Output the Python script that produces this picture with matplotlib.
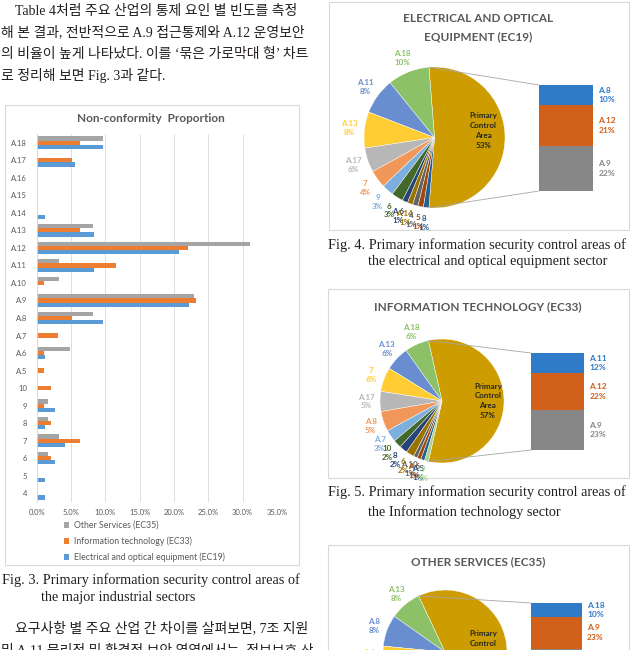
import numpy as np
import matplotlib
matplotlib.use('Agg')
import matplotlib.pyplot as plt
from matplotlib.patches import Rectangle, ConnectionPatch

W, H = 636, 650

# Fig. 3 data: share (%) of non-conformities per control area
categories = ['A.18', 'A.17', 'A.16', 'A.15', 'A.14', 'A.13', 'A.12', 'A.11', 'A.10', 'A.9',
              'A.8', 'A.7', 'A.6', 'A.5', '10', '9', '8', '7', '6', '5', '4']
ec35 = [9.7, 0, 0, 0, 0, 8.2, 31.1, 3.25, 3.25, 22.9, 8.2, 0, 4.85, 0, 0, 1.6, 1.6, 3.25, 1.6, 0, 0]
ec33 = [6.3, 5.2, 0, 0, 0, 6.3, 22.1, 11.5, 1.0, 23.2, 5.2, 3.15, 1.0, 1.0, 2.1, 1.0, 2.1, 6.3, 2.1, 0, 0]
ec19 = [9.6, 5.6, 0, 0, 1.25, 8.3, 20.7, 8.3, 0, 22.2, 9.7, 0, 1.25, 0, 0, 2.7, 1.25, 4.1, 2.7, 1.25, 1.25]
x_ticks = [0, 5, 10, 15, 20, 25, 30, 35]
series_names = ['Other Services (EC35)', 'Information technology (EC33)',
                'Electrical and optical equipment (EC19)']

# Fig. 4-6: pie-of-bar breakdowns (pie slices counter-clockwise from the top, bar from top)
ec19_pie = ['A.18', 'A.11', 'A.13', 'A.17', '7', '9', '6', 'A.6', 'A.14', '4', '5', '8']
ec19_bar = ['A.8', 'A.12', 'A.9']
ec33_pie = ['A.18', 'A.13', '7', 'A.17', 'A.8', 'A.7', '10', '8', '6', 'A.10', 'A.6', 'A.5', '9']
ec33_bar = ['A.11', 'A.12', 'A.9']
ec35_pie = ['A.13', 'A.8', 'A.6', 'A.11', 'A.10', '7', '6', '8', '9']
ec35_bar = ['A.18', 'A.9', 'A.12']

text_top = ['Table 4처럼 주요 산업의 통제 요인 별 빈도를 측정',
            '해 본 결과, 전반적으로 A.9 접근통제와 A.12 운영보안',
            '의 비율이 높게 나타났다. 이를 ‘묶은 가로막대 형’ 차트',
            '로 정리해 보면 Fig. 3과 같다.']
text_bottom = ['요구사항 별 주요 산업 간 차이를 살펴보면, 7조 지원',
               '및 A.11 물리적 및 환경적 보안 영역에서는, 정보보호 산']

SERIF = ['Liberation Serif', 'Noto Sans CJK KR']
SANS = ['Lato', 'DejaVu Sans']
GREY = '#595959'
GOLD = '#CC9C00'
PIE_COLORS = ['#8CC168', '#698ED0', '#FFCD33', '#B7B7B7', '#F1975A', '#7CAFDD', '#43682B',
              '#264478', '#997300', '#636363', '#9E480E', '#255E91', '#A9D18E']
BAR_COLORS = ['#2F7BC7', '#D0601A', '#878787']

fig = plt.figure(figsize=(W / 100, H / 100), dpi=100)


def px_ax(x0, y0, x1, y1):
    return fig.add_axes([x0 / W, 1 - y1 / H, (x1 - x0) / W, (y1 - y0) / H])


canvas = px_ax(0, 0, W, H)
canvas.set_xlim(0, W)
canvas.set_ylim(H, 0)
canvas.axis('off')

# body text and captions
for i, line in enumerate(text_top):
    canvas.text(15 if i == 0 else 1, 11 + i * 21.5, line, family=SERIF, fontsize=10,
                va='center', color='#231F20')
for i, line in enumerate(text_bottom):
    canvas.text(15 if i == 0 else 1, 628 + i * 22, line, family=SERIF, fontsize=10,
                va='center', color='#231F20')
captions = [(2, 580, 'Fig. 3. Primary information security control areas of'),
            (41, 597, 'the major industrial sectors'),
            (328, 245, 'Fig. 4. Primary information security control areas of'),
            (368, 261, 'the electrical and optical equipment sector'),
            (328, 492, 'Fig. 5. Primary information security control areas of'),
            (368, 512, 'the Information technology sector')]
for x, y, s in captions:
    canvas.text(x, y, s, family=SERIF, fontsize=10.3, va='center', color='#231F20')

# chart frames
for x0, y0, x1, y1 in [(5, 105, 299, 565), (329, 2, 629, 230), (328, 289, 629, 478),
                       (328, 545, 629, 700)]:
    canvas.add_patch(Rectangle((x0, y0), x1 - x0, y1 - y0, fill=False, ec='#D9D9D9', lw=0.8))

# ---- Fig. 3 clustered bar chart ----
canvas.text(151, 119, 'Non-conformity  Proportion', family=SANS, fontsize=8.5,
            fontweight='bold', color=GREY, ha='center', va='center')
ax = px_ax(36.7, 134, 277, 502)
y = np.arange(len(categories))
h = 0.24
b1 = ax.barh(y - h, ec35, height=h, color='#A5A5A5', label=series_names[0])
b2 = ax.barh(y, ec33, height=h, color='#ED7D31', label=series_names[1])
b3 = ax.barh(y + h, ec19, height=h, color='#5B9BD5', label=series_names[2])
ax.set_xlim(0, 35)
ax.set_ylim(len(categories) - 0.5, -0.5)
ax.set_xticks(x_ticks, [f'{t:.1f}%' for t in x_ticks])
ax.set_yticks(y, categories)
ax.tick_params(length=0, labelsize=5.5, colors=GREY)
ax.tick_params(axis='y', pad=7)
ax.tick_params(axis='x', pad=5)
for lab in ax.get_xticklabels() + ax.get_yticklabels():
    lab.set_family(SANS)
ax.grid(axis='x', color='#D9D9D9', lw=0.6)
ax.set_axisbelow(True)
for side in ['top', 'right', 'bottom']:
    ax.spines[side].set_visible(False)
ax.spines['left'].set_color('#D9D9D9')
ax.spines['left'].set_linewidth(0.6)
ax.legend(handles=[b1, b2, b3], loc='upper left', bbox_to_anchor=(64 / W, 1 - 521 / H),
          bbox_transform=fig.transFigure, frameon=False, prop={'family': SANS, 'size': 6.3},
          handlelength=0.6, handleheight=0.6, handletextpad=0.5, labelspacing=0.75,
          borderpad=0, borderaxespad=0, labelcolor=GREY)


# ---- Fig. 4-6 pie-of-bar charts ----
def pie_of_bar(values, pie_names, bar_names, title, title_y, pie_c, r, bar_box, primary_xy):
    lookup = dict(zip(categories, values))
    primary = sum(lookup[n] for n in bar_names)
    pie_vals = [primary] + [lookup[n] for n in pie_names]
    total = sum(pie_vals)
    for i, line in enumerate(title):
        canvas.text(478, title_y + i * 19, line, family=SANS, fontsize=8.5, fontweight='bold',
                    color=GREY, ha='center', va='center')

    pax = px_ax(pie_c[0] - r, pie_c[1] - r, pie_c[0] + r, pie_c[1] + r)
    colors = [GOLD] + PIE_COLORS[:len(pie_names)]
    wedges, _ = pax.pie(pie_vals, colors=colors, startangle=-primary / total * 180,
                        counterclock=True, radius=1,
                        wedgeprops=dict(edgecolor='white', linewidth=0.3))
    pax.set_xlim(-1, 1)
    pax.set_ylim(-1, 1)
    pax.axis('off')
    for w, name, v, c in zip(wedges[1:], pie_names, pie_vals[1:], colors[1:]):
        t = np.deg2rad((w.theta1 + w.theta2) / 2)
        pax.text(1.22 * np.cos(t), 1.22 * np.sin(t), f'{name}\n{round(v / total * 100)}%',
                 color=c, ha='center', va='center', fontsize=5.8, family=SANS,
                 fontweight='bold', linespacing=1.3)
    pax.text(primary_xy[0], primary_xy[1], f'Primary\nControl\nArea\n{round(primary / total * 100)}%',
             color='#262626', ha='center', va='center', fontsize=5.8, family=SANS,
             fontweight='bold', linespacing=1.5)

    bax = px_ax(*bar_box)
    bottom = 0
    for name, c in zip(bar_names[::-1], BAR_COLORS[::-1]):
        v = lookup[name]
        bax.bar(0.5, v, bottom=bottom, width=1, color=c)
        bax.text(1.1, bottom + v / 2, f'{name}\n{round(v / total * 100)}%', color=c,
                 ha='left', va='center', fontsize=6, family=SANS, fontweight='bold',
                 linespacing=1.4)
        bottom += v
    bax.set_xlim(0, 1)
    bax.set_ylim(0, primary)
    bax.axis('off')

    gold = wedges[0]
    for ang, yb in [(gold.theta2, primary), (gold.theta1, 0)]:
        a = np.deg2rad(ang)
        fig.add_artist(ConnectionPatch(xyA=(np.cos(a), np.sin(a)), coordsA=pax.transData,
                                       xyB=(0, yb), coordsB=bax.transData,
                                       color='#A6A6A6', lw=0.6))


pie_of_bar(ec19, ec19_pie, ec19_bar, ['ELECTRICAL AND OPTICAL', 'EQUIPMENT (EC19)'], 18,
           (434.5, 137.5), 70.5, (539, 85, 593, 191), (0.69, 0.1))
pie_of_bar(ec33, ec33_pie, ec33_bar, ['INFORMATION TECHNOLOGY (EC33)'], 307,
           (442, 401), 62, (531, 353, 584, 450), (0.74, 0.0))
pie_of_bar(ec35, ec35_pie, ec35_bar, ['OTHER SERVICES (EC35)'], 562,
           (445, 652), 62, (531, 603, 582, 692), (0.62, 0.05))

fig.savefig('out.png', dpi=100)
